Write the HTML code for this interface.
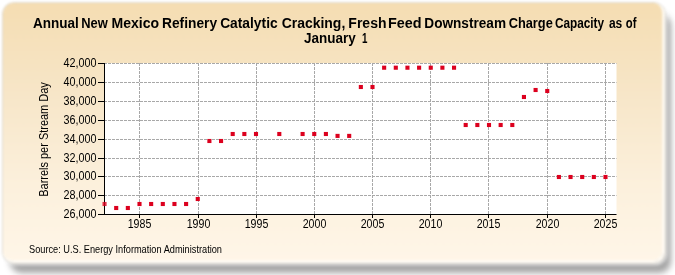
<!DOCTYPE html>
<html><head><meta charset="utf-8"><style>
html,body{margin:0;padding:0;width:675px;height:275px;overflow:hidden;background:#fff;}
#shadow{position:absolute;left:10px;top:14px;width:661px;height:259px;border-radius:12px;background:rgba(40,40,40,0.42);filter:blur(3px);}
#card{position:absolute;left:3px;top:3px;width:659.5px;height:257.5px;border-radius:11px;
border-right:2px solid #fffcf6;border-bottom:2px solid #fffcf6;
background:linear-gradient(180deg,#f5ddb2 0%,#f7e6c8 35%,#fcf0dc 70%,#fff6e8 100%) padding-box;
box-shadow:inset -1px -1px 1px rgba(255,252,245,0.7), 0 0 0 0.8px rgba(170,160,140,0.5), 1px 1px 3px 1px rgba(255,255,255,0.85);filter:blur(1.1px);}
svg{position:absolute;left:0;top:0;filter:blur(0.3px);}
text{font-family:"Liberation Sans",sans-serif;fill:#000;}
.g{stroke:#a8a8a8;stroke-width:1;stroke-dasharray:3,1;}
.ax{stroke:#000;stroke-width:1;}
.ax2{stroke:#000;stroke-width:1;}
.yl{font-size:12px;text-anchor:end;}
.xl{font-size:12px;text-anchor:middle;}
.m{fill:#dc001e;}
.t{font-size:14.5px;font-weight:bold;}
.src{font-size:10.3px;}
.yt{font-size:12px;text-anchor:middle;}
</style></head><body>
<div id="shadow"></div><div id="card"></div>
<svg width="675" height="275" viewBox="0 0 675 275">
<text x="32.96" y="27.8" class="t" textLength="45.83" lengthAdjust="spacingAndGlyphs">Annual</text>
<text x="81.16" y="27.8" class="t" textLength="26.53" lengthAdjust="spacingAndGlyphs">New</text>
<text x="111.51" y="27.8" class="t" textLength="47.58" lengthAdjust="spacingAndGlyphs">Mexico</text>
<text x="162.00" y="27.8" class="t" textLength="55.04" lengthAdjust="spacingAndGlyphs">Refinery</text>
<text x="220.15" y="27.8" class="t" textLength="57.50" lengthAdjust="spacingAndGlyphs">Catalytic</text>
<text x="281.63" y="27.8" class="t" textLength="63.65" lengthAdjust="spacingAndGlyphs">Cracking,</text>
<text x="348.36" y="27.8" class="t" textLength="38.15" lengthAdjust="spacingAndGlyphs">Fresh</text>
<text x="388.03" y="27.8" class="t" textLength="33.60" lengthAdjust="spacingAndGlyphs">Feed</text>
<text x="424.33" y="27.8" class="t" textLength="81.68" lengthAdjust="spacingAndGlyphs">Downstream</text>
<text x="508.64" y="27.8" class="t" textLength="44.17" lengthAdjust="spacingAndGlyphs">Charge</text>
<text x="554.89" y="27.8" class="t" textLength="49.23" lengthAdjust="spacingAndGlyphs">Capacity</text>
<text x="608.88" y="27.8" class="t" textLength="13.38" lengthAdjust="spacingAndGlyphs">as</text>
<text x="625.81" y="27.8" class="t" textLength="10.62" lengthAdjust="spacingAndGlyphs">of</text>
<text x="304.00" y="42.8" class="t" textLength="51.73" lengthAdjust="spacingAndGlyphs">January</text>
<text x="362.03" y="42.8" class="t" textLength="5.45" lengthAdjust="spacingAndGlyphs">1</text>
<text transform="translate(47.6,139.5) rotate(-90)" class="yt" textLength="114.5" lengthAdjust="spacingAndGlyphs">Barrels per Stream Day</text>
<text x="29" y="253" class="src" textLength="193" lengthAdjust="spacingAndGlyphs">Source: U.S. Energy Information Administration</text>
<rect x="104" y="63" width="512.5" height="151" fill="#ffffff"/>
<line x1="104" y1="195.5" x2="616.5" y2="195.5" class="g"/>
<line x1="104" y1="176.5" x2="616.5" y2="176.5" class="g"/>
<line x1="104" y1="158.5" x2="616.5" y2="158.5" class="g"/>
<line x1="104" y1="139.5" x2="616.5" y2="139.5" class="g"/>
<line x1="104" y1="120.5" x2="616.5" y2="120.5" class="g"/>
<line x1="104" y1="101.5" x2="616.5" y2="101.5" class="g"/>
<line x1="104" y1="82.5" x2="616.5" y2="82.5" class="g"/>
<line x1="104" y1="63.5" x2="616.5" y2="63.5" class="g"/>
<line x1="139.50" y1="63" x2="139.50" y2="214" class="g"/>
<line x1="198.50" y1="63" x2="198.50" y2="214" class="g"/>
<line x1="256.50" y1="63" x2="256.50" y2="214" class="g"/>
<line x1="314.50" y1="63" x2="314.50" y2="214" class="g"/>
<line x1="372.50" y1="63" x2="372.50" y2="214" class="g"/>
<line x1="430.50" y1="63" x2="430.50" y2="214" class="g"/>
<line x1="488.50" y1="63" x2="488.50" y2="214" class="g"/>
<line x1="547.50" y1="63" x2="547.50" y2="214" class="g"/>
<line x1="605.50" y1="63" x2="605.50" y2="214" class="g"/>
<line x1="98" y1="214.5" x2="104" y2="214.5" class="ax"/>
<text x="96.4" y="217.5" class="yl" textLength="33" lengthAdjust="spacingAndGlyphs">26,000</text>
<line x1="98" y1="195.5" x2="104" y2="195.5" class="ax"/>
<text x="96.4" y="198.5" class="yl" textLength="33" lengthAdjust="spacingAndGlyphs">28,000</text>
<line x1="98" y1="176.5" x2="104" y2="176.5" class="ax"/>
<text x="96.4" y="179.5" class="yl" textLength="33" lengthAdjust="spacingAndGlyphs">30,000</text>
<line x1="98" y1="158.5" x2="104" y2="158.5" class="ax"/>
<text x="96.4" y="161.5" class="yl" textLength="33" lengthAdjust="spacingAndGlyphs">32,000</text>
<line x1="98" y1="139.5" x2="104" y2="139.5" class="ax"/>
<text x="96.4" y="142.5" class="yl" textLength="33" lengthAdjust="spacingAndGlyphs">34,000</text>
<line x1="98" y1="120.5" x2="104" y2="120.5" class="ax"/>
<text x="96.4" y="123.5" class="yl" textLength="33" lengthAdjust="spacingAndGlyphs">36,000</text>
<line x1="98" y1="101.5" x2="104" y2="101.5" class="ax"/>
<text x="96.4" y="104.5" class="yl" textLength="33" lengthAdjust="spacingAndGlyphs">38,000</text>
<line x1="98" y1="82.5" x2="104" y2="82.5" class="ax"/>
<text x="96.4" y="85.5" class="yl" textLength="33" lengthAdjust="spacingAndGlyphs">40,000</text>
<line x1="98" y1="63.5" x2="104" y2="63.5" class="ax"/>
<text x="96.4" y="66.5" class="yl" textLength="33" lengthAdjust="spacingAndGlyphs">42,000</text>
<line x1="139.50" y1="214" x2="139.50" y2="218" class="ax"/>
<text x="139.50" y="227.6" class="xl" textLength="23.6" lengthAdjust="spacingAndGlyphs">1985</text>
<line x1="198.50" y1="214" x2="198.50" y2="218" class="ax"/>
<text x="198.50" y="227.6" class="xl" textLength="23.6" lengthAdjust="spacingAndGlyphs">1990</text>
<line x1="256.50" y1="214" x2="256.50" y2="218" class="ax"/>
<text x="256.50" y="227.6" class="xl" textLength="23.6" lengthAdjust="spacingAndGlyphs">1995</text>
<line x1="314.50" y1="214" x2="314.50" y2="218" class="ax"/>
<text x="314.50" y="227.6" class="xl" textLength="23.6" lengthAdjust="spacingAndGlyphs">2000</text>
<line x1="372.50" y1="214" x2="372.50" y2="218" class="ax"/>
<text x="372.50" y="227.6" class="xl" textLength="23.6" lengthAdjust="spacingAndGlyphs">2005</text>
<line x1="430.50" y1="214" x2="430.50" y2="218" class="ax"/>
<text x="430.50" y="227.6" class="xl" textLength="23.6" lengthAdjust="spacingAndGlyphs">2010</text>
<line x1="488.50" y1="214" x2="488.50" y2="218" class="ax"/>
<text x="488.50" y="227.6" class="xl" textLength="23.6" lengthAdjust="spacingAndGlyphs">2015</text>
<line x1="547.50" y1="214" x2="547.50" y2="218" class="ax"/>
<text x="547.50" y="227.6" class="xl" textLength="23.6" lengthAdjust="spacingAndGlyphs">2020</text>
<line x1="605.50" y1="214" x2="605.50" y2="218" class="ax"/>
<text x="605.50" y="227.6" class="xl" textLength="23.6" lengthAdjust="spacingAndGlyphs">2025</text>
<line x1="104.5" y1="63" x2="104.5" y2="214.5" class="ax2"/>
<line x1="104" y1="214.5" x2="616.5" y2="214.5" class="ax2"/>
<rect x="102.50" y="201.95" width="4.1" height="4.1" class="m" fill-opacity="0.8"/>
<rect x="114.15" y="205.95" width="4.1" height="4.1" class="m"/>
<rect x="125.80" y="205.95" width="4.1" height="4.1" class="m"/>
<rect x="137.45" y="201.95" width="4.1" height="4.1" class="m"/>
<rect x="149.10" y="201.95" width="4.1" height="4.1" class="m"/>
<rect x="160.75" y="201.95" width="4.1" height="4.1" class="m"/>
<rect x="172.40" y="201.95" width="4.1" height="4.1" class="m"/>
<rect x="184.05" y="201.95" width="4.1" height="4.1" class="m"/>
<rect x="195.70" y="196.95" width="4.1" height="4.1" class="m"/>
<rect x="207.35" y="138.95" width="4.1" height="4.1" class="m"/>
<rect x="219.00" y="138.95" width="4.1" height="4.1" class="m"/>
<rect x="230.65" y="131.95" width="4.1" height="4.1" class="m"/>
<rect x="242.30" y="131.95" width="4.1" height="4.1" class="m"/>
<rect x="253.95" y="131.95" width="4.1" height="4.1" class="m"/>
<rect x="277.25" y="131.95" width="4.1" height="4.1" class="m"/>
<rect x="300.55" y="131.95" width="4.1" height="4.1" class="m"/>
<rect x="312.20" y="131.95" width="4.1" height="4.1" class="m"/>
<rect x="323.85" y="131.95" width="4.1" height="4.1" class="m"/>
<rect x="335.50" y="133.85" width="4.1" height="4.1" class="m"/>
<rect x="347.15" y="133.85" width="4.1" height="4.1" class="m"/>
<rect x="358.80" y="84.95" width="4.1" height="4.1" class="m"/>
<rect x="370.45" y="84.95" width="4.1" height="4.1" class="m"/>
<rect x="382.10" y="65.65" width="4.1" height="4.1" class="m"/>
<rect x="393.75" y="65.65" width="4.1" height="4.1" class="m"/>
<rect x="405.40" y="65.65" width="4.1" height="4.1" class="m"/>
<rect x="417.05" y="65.65" width="4.1" height="4.1" class="m"/>
<rect x="428.70" y="65.65" width="4.1" height="4.1" class="m"/>
<rect x="440.35" y="65.65" width="4.1" height="4.1" class="m"/>
<rect x="452.00" y="65.65" width="4.1" height="4.1" class="m"/>
<rect x="463.65" y="122.95" width="4.1" height="4.1" class="m"/>
<rect x="475.30" y="122.95" width="4.1" height="4.1" class="m"/>
<rect x="486.95" y="122.95" width="4.1" height="4.1" class="m"/>
<rect x="498.60" y="122.95" width="4.1" height="4.1" class="m"/>
<rect x="510.25" y="122.95" width="4.1" height="4.1" class="m"/>
<rect x="521.90" y="94.95" width="4.1" height="4.1" class="m"/>
<rect x="533.55" y="87.95" width="4.1" height="4.1" class="m"/>
<rect x="545.20" y="88.95" width="4.1" height="4.1" class="m"/>
<rect x="556.85" y="174.95" width="4.1" height="4.1" class="m"/>
<rect x="568.50" y="174.95" width="4.1" height="4.1" class="m"/>
<rect x="580.15" y="174.95" width="4.1" height="4.1" class="m"/>
<rect x="591.80" y="174.95" width="4.1" height="4.1" class="m"/>
<rect x="603.45" y="174.95" width="4.1" height="4.1" class="m"/>
</svg>
</body></html>
